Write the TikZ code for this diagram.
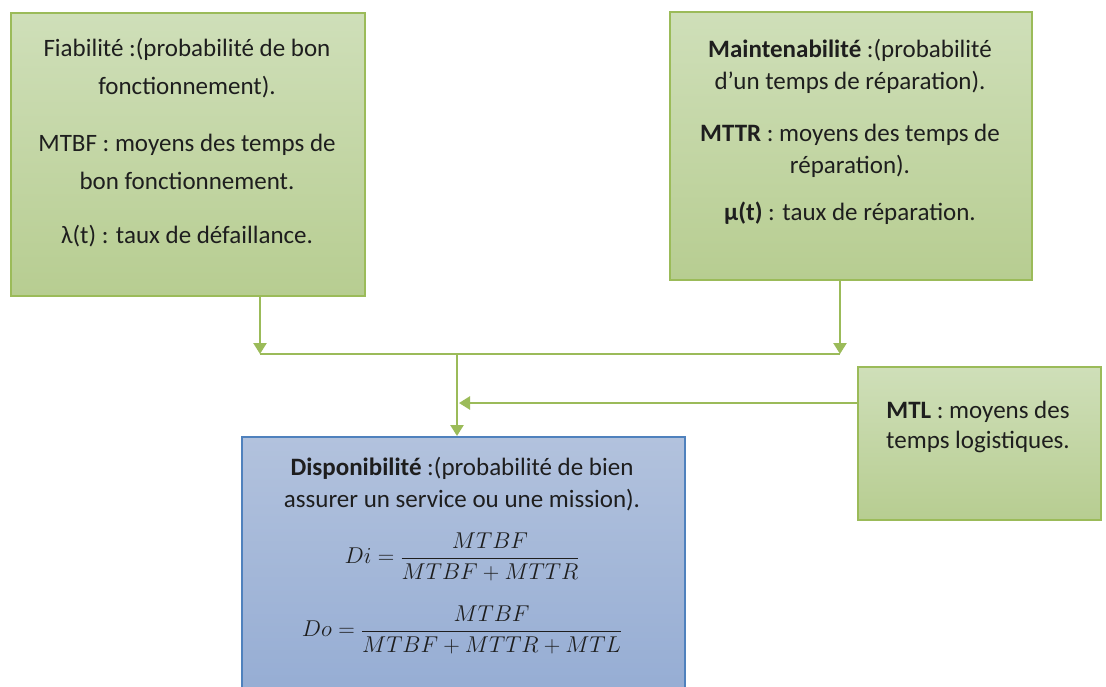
\documentclass[tikz,border=0pt]{standalone}
\usepackage{amsmath}
\usepackage{graphicx}
\usepackage{fontspec}
\setmainfont{Carlito}
\usetikzlibrary{arrows.meta}
\definecolor{gborder}{HTML}{9BBB59}
\definecolor{gtop}{HTML}{CFDFB9}
\definecolor{gbot}{HTML}{B7CD91}
\definecolor{bborder}{HTML}{4F81BD}
\definecolor{btop}{HTML}{B2C2DD}
\definecolor{bbot}{HTML}{93ABD3}
\definecolor{tcol}{HTML}{1E1E1E}
\begin{document}
\begin{tikzpicture}[x=1pt,y=-1pt,
  gbox/.style={draw=gborder, line width=1.8pt, top color=gtop, bottom color=gbot, inner sep=0pt, anchor=north west},
  bbox/.style={draw=bborder, line width=1.8pt, top color=btop, bottom color=bbot, inner sep=0pt, anchor=north west},
  conn/.style={draw=gborder, line width=2.4pt},
  arr/.style={conn, -{Triangle[width=13pt,length=11pt]}},
  txt/.style={align=center, text=tcol, inner sep=0pt, font=\fontsize{25}{38}\selectfont},
  txtb/.style={txt, font=\fontsize{25}{32}\selectfont},
  txtm/.style={align=center, text=tcol, inner sep=0pt, font=\fontsize{24.88}{30}\selectfont}
]
\useasboundingbox (0,0) rectangle (1106,686);
\clip (0,0) rectangle (1106,686);
\fill[white] (0,0) rectangle (1106,686);

% boxes
\node[gbox, minimum width=354pt, minimum height=283pt] (fia) at (10,12) {};
\node[gbox, minimum width=362pt, minimum height=268pt] (mai) at (669,11) {};
\node[gbox, minimum width=243pt, minimum height=153pt] (mtl) at (857,366) {};
\node[bbox, minimum width=443pt, minimum height=280pt] (dis) at (241,436) {};

% texts box 1
\node[txt] (fia1) at (187,68) {Fiabilité :(probabilité de bon\\fonctionnement).};
\node[txt] (fia2) at (187,162) {MTBF : moyens des temps de\\bon fonctionnement.};
\node[txt] (fia3) at (187,236) {λ(t) : taux de défaillance.};

% texts box 2
\node[txtb] (mai1) at (850,66) {\textbf{Maintenabilité} :(probabilité\\d’un temps de réparation).};
\node[txtb] (mai2) at (850,151) {\textbf{MTTR} : moyens des temps de\\réparation).};
\node[txtb] (mai3) at (850,213) {\textbf{µ(t)} : taux de réparation.};

% texts MTL
\node[txt, font=\fontsize{25}{30}\selectfont] (mtl1) at (978,427) {\textbf{MTL} : moyens des\\temps logistiques.};

% texts dispo
\node[txtb] (dis1) at (462,484) {\textbf{Disponibilité} :(probabilité de bien\\assurer un service ou une mission).};
\node[txtm] (dis2) at (462,557) {\scalebox{0.92}{$Di = \dfrac{MTBF}{MTBF + MTTR}$}};
\node[txtm] (dis3) at (462,630) {\scalebox{0.92}{$Do = \dfrac{MTBF}{MTBF + MTTR + MTL}$}};

% connectors
\coordinate (j1) at (260,354);
\coordinate (j2) at (840,354);
\coordinate (jm) at (457,354);
\coordinate (k) at (459,403);
\draw[arr] (j1 |- fia.south) -- (j1);
\draw[arr] (j2 |- mai.south) -- (j2);
\draw[conn] (j1) -- (j2);
\draw[arr] (jm) -- (jm |- dis.north);
\draw[arr] (mtl.west |- k) -- (k);
\end{tikzpicture}
\end{document}
